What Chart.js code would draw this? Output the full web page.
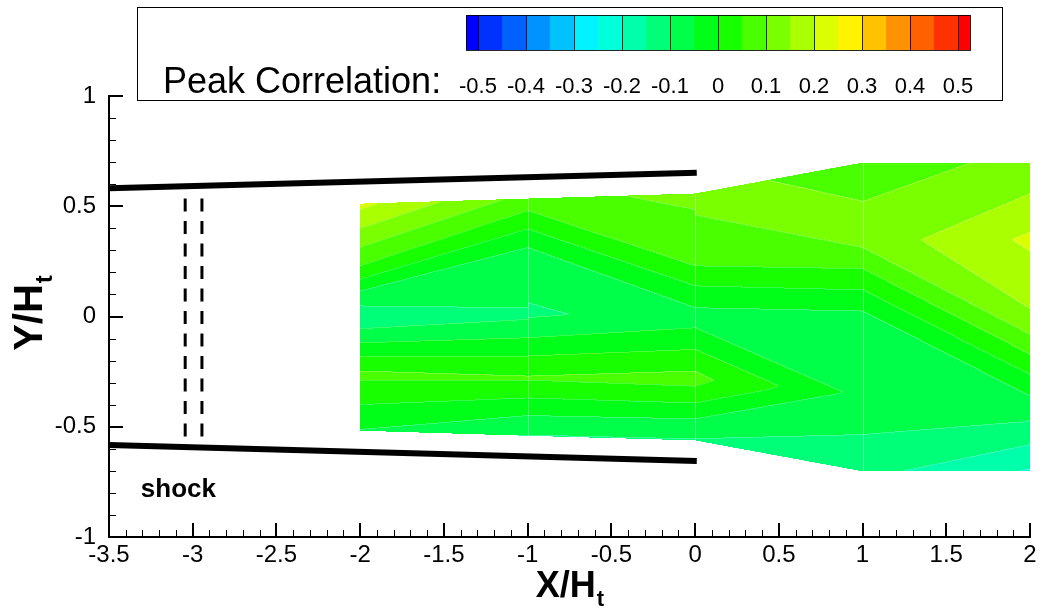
<!DOCTYPE html>
<html><head><meta charset="utf-8">
<script src="https://cdn.jsdelivr.net/npm/chart.js@4.4.1/dist/chart.umd.min.js"></script>
<style>html,body{margin:0;padding:0;background:#fff;}canvas{display:block;}</style>
</head><body>
<canvas id="c" width="1041" height="612"></canvas>
<script>
// ---------------- data ----------------
const stationX = [-2, -1, 0, 1, 2];

// peak correlation read along each measurement station (y position / value), bottom edge to top edge
const profY_m2 = [-0.518,-0.51,-0.397,-0.288,-0.266,-0.245,-0.18,-0.117,-0.053,0.0,0.05,0.118,0.171,0.232,0.308,0.391,0.482,0.512];
const profV_m2 = [-0.055,-0.05,0.0,0.05,0.065,0.05,0.0,-0.05,-0.1,-0.13,-0.1,-0.05,0.0,0.05,0.1,0.15,0.2,0.215];
const profY_m1 = [-0.541,-0.533,-0.447,-0.367,-0.286,-0.277,-0.268,-0.177,-0.094,-0.011,0.015,0.042,0.315,0.399,0.482,0.535];
const profV_m1 = [-0.103,-0.1,-0.05,0.0,0.05,0.056,0.05,0.0,-0.05,-0.1,-0.11,-0.1,-0.05,0.0,0.05,0.08];
const profY_0  = [-0.562,-0.552,-0.462,-0.39,-0.314,-0.28,-0.245,-0.147,-0.049,0.0,0.042,0.141,0.232,0.462,0.51,0.558];
const profV_0  = [-0.105,-0.1,-0.05,0.0,0.05,0.065,0.05,0.0,-0.05,-0.07,-0.05,0.0,0.05,0.1,0.107,0.114];
const profY_p1 = [-0.702,-0.533,-0.35,0.0,0.027,0.123,0.219,0.315,0.35,0.525,0.698];
const profV_p1 = [-0.134,-0.1,-0.065,-0.064,-0.05,0.0,0.05,0.1,0.118,0.1,0.082];
const profY_p2 = [-0.700,-0.359,-0.262,-0.17,-0.079,0.0,0.35,0.698];
const profV_p2 = [-0.205,-0.05,0.0,0.05,0.1,0.143,0.21,0.11];

// mesh rows joining neighbouring stations (y on left station / y on right station)
const rowsL_a = [-0.518,-0.51,-0.397,-0.288,-0.266,-0.245,-0.18,-0.117,-0.053,0.0,0.05,0.118,0.171,0.232,0.512];
const rowsR_a = [-0.541,-0.447,-0.367,-0.286,-0.277,-0.268,-0.177,-0.094,-0.011,0.015,0.042,0.315,0.399,0.482,0.535];
const rowsL_b = [-0.541,-0.447,-0.367,-0.286,-0.277,-0.268,-0.177,-0.094,0.015,0.315,0.399,0.482,0.535];
const rowsR_b = [-0.562,-0.462,-0.39,-0.314,-0.28,-0.245,-0.147,-0.049,0.0,0.042,0.141,0.232,0.558];
const rowsL_c = [-0.562,-0.552,-0.462,-0.39,-0.314,-0.28,-0.245,-0.147,-0.049,0.0,0.042,0.141,0.232,0.462,0.51,0.558,0.558];
const rowsR_c = [-0.702,-0.533,-0.35,-0.35,-0.35,-0.35,-0.35,-0.35,-0.35,0.0,0.027,0.123,0.219,0.315,0.35,0.525,0.698];
const rowsL_d = [-0.702,-0.533,0.027,0.123,0.219,0.315,0.315,0.35,0.698];
const rowsR_d = [-0.700,-0.466,-0.359,-0.262,-0.17,-0.079,0.0,0.35,0.698];

const contourLevels = [-0.5,-0.45,-0.4,-0.35,-0.3,-0.25,-0.2,-0.15,-0.1,-0.05,0,0.05,0.1,0.15,0.2,0.25,0.3,0.35,0.4,0.45,0.5];
const bandColors = ['#0000FF','#0031FF','#0061FF','#0092FF','#00C2FF','#00F3FF','#00FFDB','#00FFAA','#00FF79','#00FF49','#00FF18',
                    '#18FF00','#49FF00','#79FF00','#AAFF00','#DBFF00','#FFF300','#FFC200','#FF9200','#FF6100','#FF3100','#FF0000'];
const colorbarLabelValues = [-0.5,-0.4,-0.3,-0.2,-0.1,0,0.1,0.2,0.3,0.4,0.5];
const colorbarLabels = ['-0.5','-0.4','-0.3','-0.2','-0.1','0','0.1','0.2','0.3','0.4','0.5'];
const legendTitle = 'Peak Correlation:';

const xTickValues = [-3.5,-3,-2.5,-2,-1.5,-1,-0.5,0,0.5,1,1.5,2];
const xTickLabels = ['-3.5','-3','-2.5','-2','-1.5','-1','-0.5','0','0.5','1','1.5','2'];
const yTickValues = [-1,-0.5,0,0.5,1];
const yTickLabels = ['-1','-0.5','0','0.5','1'];

const upperWallX = [-3.5, 0.01], upperWallY = [0.582, 0.652];
const lowerWallX = [-3.5, 0.01], lowerWallY = [-0.583, -0.655];
const shockLinesX = [-3.045, -2.945];
const shockLineY  = [0.535, -0.575];
const shockText = 'shock', shockTextX = -3.31, shockTextY = -0.82;

// ---------------- helpers ----------------
const FONT = '"Liberation Sans", Arial, Helvetica, sans-serif';
const profilesY = [profY_m2, profY_m1, profY_0, profY_p1, profY_p2];
const profilesV = [profV_m2, profV_m1, profV_0, profV_p1, profV_p2];
const rowsLeft  = [rowsL_a, rowsL_b, rowsL_c, rowsL_d];
const rowsRight = [rowsR_a, rowsR_b, rowsR_c, rowsR_d];

function profileAt(ys, vs, y) {
  if (y <= ys[0]) return vs[0];
  for (let i = 1; i < ys.length; i++) {
    if (y <= ys[i]) { const f = (y - ys[i-1]) / (ys[i] - ys[i-1]); return vs[i-1] + f * (vs[i] - vs[i-1]); }
  }
  return vs[vs.length - 1];
}
const rowValL = rowsLeft.map((r, j) => r.map(y => profileAt(profilesY[j], profilesV[j], y)));
const rowValR = rowsRight.map((r, j) => r.map(y => profileAt(profilesY[j+1], profilesV[j+1], y)));

function cross(ax, ay, bx, by) { return ax * by - ay * bx; }
function bary(p, P1, P2, P3) {
  const den = (P2[1]-P3[1])*(P1[0]-P3[0]) + (P3[0]-P2[0])*(P1[1]-P3[1]);
  const l1 = ((P2[1]-P3[1])*(p[0]-P3[0]) + (P3[0]-P2[0])*(p[1]-P3[1])) / den;
  const l2 = ((P3[1]-P1[1])*(p[0]-P3[0]) + (P1[0]-P3[0])*(p[1]-P3[1])) / den;
  return l1 * P1[2] + l2 * P2[2] + (1 - l1 - l2) * P3[2];
}
function fieldAt(x, y) {
  const n = stationX.length;
  if (x < stationX[0] || x > stationX[n-1]) return null;
  let j = 0;
  while (j < n - 2 && x > stationX[j+1]) j++;
  const x0 = stationX[j], x1 = stationX[j+1];
  const t = (x - x0) / (x1 - x0);
  const L = rowsLeft[j], R = rowsRight[j];
  const m = L.length;
  if (y < L[0] + t * (R[0] - L[0])) return null;
  for (let k = 0; k < m - 1; k++) {
    const next = L[k+1] + t * (R[k+1] - L[k+1]);
    if (y <= next) {
      const A = [x0, L[k], rowValL[j][k]], B = [x1, R[k], rowValR[j][k]];
      const C = [x1, R[k+1], rowValR[j][k+1]], D = [x0, L[k+1], rowValL[j][k+1]];
      const p = [x, y];
      if (Math.abs(A[2] - C[2]) <= Math.abs(B[2] - D[2])) {
        const sB = cross(C[0]-A[0], C[1]-A[1], B[0]-A[0], B[1]-A[1]);
        const sp = cross(C[0]-A[0], C[1]-A[1], p[0]-A[0], p[1]-A[1]);
        if (sB !== 0 && sp * sB >= 0) return bary(p, A, B, C);
        return bary(p, A, C, D);
      } else {
        const sA = cross(D[0]-B[0], D[1]-B[1], A[0]-B[0], A[1]-B[1]);
        const sp = cross(D[0]-B[0], D[1]-B[1], p[0]-B[0], p[1]-B[1]);
        if (sA !== 0 && sp * sA >= 0) return bary(p, A, B, D);
        return bary(p, B, C, D);
      }
    }
  }
  return null;
}
function bandIndex(v) {
  let k = 0;
  while (k < contourLevels.length && v >= contourLevels[k] - 1e-9) k++;
  return k;
}
function hexRgb(h) { return [parseInt(h.slice(1,3),16), parseInt(h.slice(3,5),16), parseInt(h.slice(5,7),16)]; }
const bandRgb = bandColors.map(hexRgb);

// ---------------- plugins ----------------
const contourPlugin = {
  id: 'contour',
  beforeDatasetsDraw(chart) {
    const {ctx, chartArea: a, scales: {x, y}} = chart;
    const L = Math.round(a.left), T = Math.round(a.top);
    const w = Math.round(a.right) - L, h = Math.round(a.bottom) - T;
    const off = document.createElement('canvas'); off.width = w; off.height = h;
    const octx = off.getContext('2d');
    const img = octx.createImageData(w, h);
    const band = new Int8Array(w * h).fill(-1);
    const xs = new Float64Array(w);
    for (let px = 0; px < w; px++) xs[px] = x.getValueForPixel(L + px + 0.5);
    for (let py = 0; py < h; py++) {
      const yv = y.getValueForPixel(T + py + 0.5);
      for (let px = 0; px < w; px++) {
        const v = fieldAt(xs[px], yv);
        if (v === null) continue;
        band[py * w + px] = bandIndex(v);
      }
    }
    for (let py = 0; py < h; py++) {
      for (let px = 0; px < w; px++) {
        const i = py * w + px, b = band[i];
        if (b < 0) continue;
        const c = bandRgb[b];
        // faint light seam where neighbouring bands meet (as in the original rendering)
        const seam = (px > 0 && band[i-1] >= 0 && band[i-1] !== b) || (py > 0 && band[i-w] >= 0 && band[i-w] !== b);
        const f = seam ? 0.22 : 0;
        const o = i * 4;
        img.data[o] = c[0] + (255 - c[0]) * f; img.data[o+1] = c[1] + (255 - c[1]) * f;
        img.data[o+2] = c[2] + (255 - c[2]) * f; img.data[o+3] = 255;
      }
    }
    octx.putImageData(img, 0, 0);
    ctx.drawImage(off, L, T);
    // faint cell seams along inner stations
    ctx.save();
    ctx.strokeStyle = 'rgba(255,255,255,0.35)'; ctx.lineWidth = 1;
    for (let j = 1; j < stationX.length - 1; j++) {
      const px = Math.round(x.getPixelForValue(stationX[j])) + 0.5;
      const ys = profilesY[j];
      ctx.beginPath();
      ctx.moveTo(px, y.getPixelForValue(ys[ys.length-1]));
      ctx.lineTo(px, y.getPixelForValue(ys[0]));
      ctx.stroke();
    }
    ctx.restore();
  }
};

const decorPlugin = {
  id: 'decor',
  afterDraw(chart) {
    const {ctx, chartArea: a, scales: {x, y}} = chart;
    ctx.save();
    // axes lines
    ctx.strokeStyle = '#000'; ctx.lineWidth = 2; ctx.lineCap = 'square';
    ctx.beginPath();
    ctx.moveTo(a.left, a.top); ctx.lineTo(a.left, a.bottom); ctx.lineTo(a.right, a.bottom);
    ctx.stroke();
    ctx.lineCap = 'butt';
    // x ticks (inward)
    for (let i = 0; i <= 55; i++) {
      const v = -3.5 + i * 0.1;
      const major = i % 5 === 0;
      const px = Math.round(x.getPixelForValue(v)) + (major ? 0 : 0.5);
      ctx.lineWidth = major ? 2 : 1;
      ctx.beginPath(); ctx.moveTo(px, a.bottom); ctx.lineTo(px, a.bottom - (major ? 14 : 7)); ctx.stroke();
    }
    // y ticks (inward)
    for (let i = 0; i <= 20; i++) {
      const v = -1 + i * 0.1;
      const major = i % 5 === 0;
      const py = Math.round(y.getPixelForValue(v)) + (major ? 0 : 0.5);
      ctx.lineWidth = major ? 2 : 1;
      ctx.beginPath(); ctx.moveTo(a.left, py); ctx.lineTo(a.left + (major ? 14 : 7), py); ctx.stroke();
    }
    // shock label
    ctx.fillStyle = '#000';
    ctx.font = 'bold 26px ' + FONT;
    ctx.textAlign = 'left'; ctx.textBaseline = 'alphabetic';
    ctx.fillText(shockText, x.getPixelForValue(shockTextX), y.getPixelForValue(shockTextY));

    // axis titles with subscript
    const drawTitle = (main, sub, cx, base, big, small, drop) => {
      ctx.font = 'bold ' + big + 'px ' + FONT; const w1 = ctx.measureText(main).width;
      ctx.font = 'bold ' + small + 'px ' + FONT; const w2 = ctx.measureText(sub).width;
      const x0 = cx - (w1 + w2) / 2;
      ctx.font = 'bold ' + big + 'px ' + FONT; ctx.fillText(main, x0, base);
      ctx.font = 'bold ' + small + 'px ' + FONT; ctx.fillText(sub, x0 + w1 + 1, base + drop);
    };
    ctx.textAlign = 'left';
    drawTitle('X/H', 't', (a.left + a.right) / 2, 597, 36, 22, 9);
    ctx.save();
    ctx.translate(42, (a.top + a.bottom) / 2 - 3);
    ctx.rotate(-Math.PI / 2);
    drawTitle('Y/H', 't', 0, 0, 40, 24, 10);
    ctx.restore();

    // legend box
    ctx.fillStyle = '#fff';
    ctx.fillRect(137, 7, 866, 94);
    ctx.strokeStyle = '#000'; ctx.lineWidth = 1;
    ctx.strokeRect(137.5, 7.5, 865, 93);
    ctx.fillStyle = '#000';
    ctx.font = '36px ' + FONT;
    ctx.textAlign = 'left'; ctx.textBaseline = 'alphabetic';
    ctx.fillText(legendTitle, 163, 93);
    // colour bar
    const cbL = 466, cbR = 970, cbT = 15, cbB = 50;
    const lo = contourLevels[0] - 0.025, hi = contourLevels[contourLevels.length-1] + 0.025;
    const cbx = v => cbL + (v - lo) / (hi - lo) * (cbR - cbL);
    const edges = [lo, ...contourLevels, hi];
    for (let k = 0; k < bandColors.length; k++) {
      ctx.fillStyle = bandColors[k];
      const x1 = cbx(edges[k]), x2 = cbx(edges[k+1]);
      ctx.fillRect(x1, cbT, x2 - x1, cbB - cbT);
    }
    ctx.strokeStyle = 'rgba(0,0,0,0.85)'; ctx.lineWidth = 1;
    colorbarLabelValues.forEach(v => {
      const px = Math.round(cbx(v)) + 0.5;
      ctx.beginPath(); ctx.moveTo(px, cbT); ctx.lineTo(px, cbB); ctx.stroke();
    });
    ctx.strokeRect(cbL + 0.5, cbT + 0.5, cbR - cbL, cbB - cbT);
    ctx.fillStyle = '#000';
    ctx.font = '22px ' + FONT;
    ctx.textAlign = 'center';
    colorbarLabelValues.forEach((v, i) => ctx.fillText(colorbarLabels[i], cbx(v), 93));
    ctx.restore();
  }
};

// ---------------- chart ----------------
const lineDs = (xs, ys, w, dash) => ({
  data: xs.map((v, i) => ({x: v, y: ys[i]})),
  showLine: true, borderColor: '#000', backgroundColor: '#000', borderWidth: w,
  borderDash: dash || [], pointRadius: 0, pointHoverRadius: 0, fill: false, tension: 0, borderCapStyle: 'butt'
});

new Chart(document.getElementById('c'), {
  type: 'scatter',
  data: {
    datasets: [
      lineDs(upperWallX, upperWallY, 6),
      lineDs(lowerWallX, lowerWallY, 6),
      lineDs([shockLinesX[0], shockLinesX[0]], shockLineY, 3, [13, 9.5]),
      lineDs([shockLinesX[1], shockLinesX[1]], shockLineY, 3, [13, 9.5])
    ]
  },
  options: {
    responsive: false, animation: false, devicePixelRatio: 1,
    layout: {padding: {left: 0, right: 11, top: 96, bottom: 0}},
    plugins: {legend: {display: false}, tooltip: {enabled: false}},
    events: [],
    scales: {
      x: {
        type: 'linear', min: -3.5, max: 2,
        afterFit(s) { s.height = 75; },
        afterBuildTicks(s) { s.ticks = xTickValues.map(v => ({value: v})); },
        grid: {display: false, drawTicks: false}, border: {display: false},
        ticks: {color: '#000', font: {family: FONT, size: 24}, padding: 4, maxRotation: 0, autoSkip: false,
                callback: (v) => xTickLabels[xTickValues.findIndex(t => Math.abs(t - v) < 1e-6)]}
      },
      y: {
        type: 'linear', min: -1, max: 1,
        afterFit(s) { s.width = 109; },
        afterBuildTicks(s) { s.ticks = yTickValues.map(v => ({value: v})); },
        grid: {display: false, drawTicks: false}, border: {display: false},
        ticks: {color: '#000', font: {family: FONT, size: 24}, padding: 13, autoSkip: false,
                callback: (v) => yTickLabels[yTickValues.findIndex(t => Math.abs(t - v) < 1e-6)]}
      }
    }
  },
  plugins: [contourPlugin, decorPlugin]
});
</script>
</body></html>
